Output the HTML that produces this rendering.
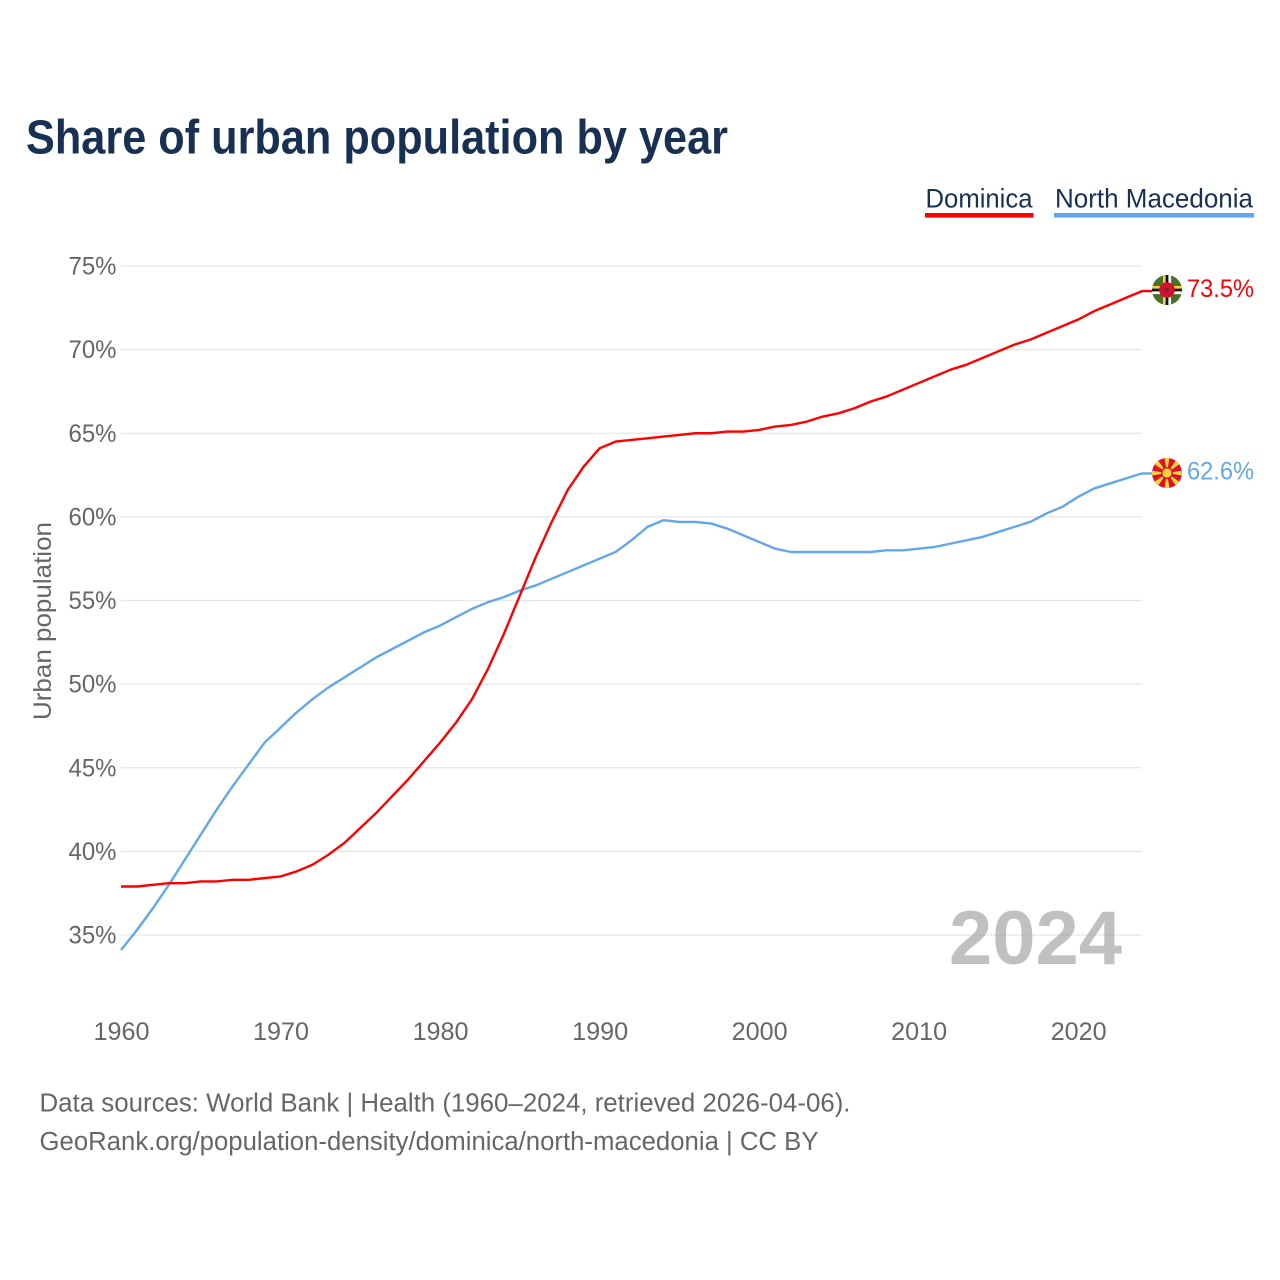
<!DOCTYPE html>
<html lang="en">
<head>
<meta charset="utf-8">
<title>Share of urban population by year</title>
<style>
html,body{margin:0;padding:0;background:#fff;}
svg{display:block;font-family:"Liberation Sans",sans-serif;}
</style>
</head>
<body>
<svg id="chart" xmlns="http://www.w3.org/2000/svg" width="1280" height="1280" viewBox="0 0 1280 1280">
  <defs>
    <clipPath id="flag-clip-a"><circle cx="0" cy="0" r="15"/></clipPath>
    <clipPath id="flag-clip-b"><circle cx="0" cy="0" r="15"/></clipPath>
  </defs>
  <rect x="0" y="0" width="1280" height="1280" fill="#ffffff"/>
  <text x="26" y="153.5" font-size="48" font-weight="700" fill="#183153" textLength="702" lengthAdjust="spacingAndGlyphs">Share of urban population by year</text>

  <g>
    <g>
      <text x="925.5" y="207.5" font-size="26.5" fill="#183153" textLength="107" lengthAdjust="spacingAndGlyphs">Dominica</text>
      <rect x="925" y="213" width="108.5" height="4.6" fill="#ff0000"/>
    </g>
    <g>
      <text x="1055" y="207.5" font-size="26.5" fill="#183153" textLength="198" lengthAdjust="spacingAndGlyphs">North Macedonia</text>
      <rect x="1054" y="213" width="200" height="4.6" fill="#62a7ec"/>
    </g>
  </g>

  <g id="grid"></g>
  <g id="y-ticks"></g>
  <g id="x-ticks"></g>
  <text transform="translate(51,720) rotate(-90)" font-size="25" fill="#666666" textLength="198" lengthAdjust="spacingAndGlyphs">Urban population</text>

  <text x="949" y="964" font-size="76" font-weight="700" fill="#9a9a9a" fill-opacity="0.62" textLength="173" lengthAdjust="spacingAndGlyphs">2024</text>

  <g id="series"></g>

  <g id="flag-dominica" transform="translate(1167,290)">
    <g clip-path="url(#flag-clip-a)">
      <rect x="-15" y="-15" width="30" height="30" fill="#4d6f2b"/>
      <rect x="-4" y="-15" width="2.7" height="30" fill="#f6d33c"/>
      <rect x="-1.3" y="-15" width="2.7" height="30" fill="#111111"/>
      <rect x="1.4" y="-15" width="2.7" height="30" fill="#ffffff"/>
      <rect x="-15" y="-4" width="30" height="2.7" fill="#f6d33c"/>
      <rect x="-15" y="-1.3" width="30" height="2.7" fill="#111111"/>
      <rect x="-15" y="1.4" width="30" height="2.7" fill="#ffffff"/>
      <circle cx="0" cy="0" r="7.8" fill="#d3102f"/>
      <circle cx="0" cy="0" r="2" fill="#5b3a1d"/>
    </g>
  </g>
  <g id="flag-macedonia" transform="translate(1167,473)">
    <g clip-path="url(#flag-clip-b)">
      <rect x="-15" y="-15" width="30" height="30" fill="#d8132a"/>
      <g fill="#f9d23c">
        <polygon points="-2.6,-16 2.6,-16 0,0"/>
        <polygon points="-2.6,-16 2.6,-16 0,0" transform="rotate(90)"/>
        <polygon points="-2.6,-16 2.6,-16 0,0" transform="rotate(180)"/>
        <polygon points="-2.6,-16 2.6,-16 0,0" transform="rotate(270)"/>
        <polygon points="-3.2,-19 3.2,-19 0,0" transform="rotate(45)"/>
        <polygon points="-3.2,-19 3.2,-19 0,0" transform="rotate(135)"/>
        <polygon points="-3.2,-19 3.2,-19 0,0" transform="rotate(225)"/>
        <polygon points="-3.2,-19 3.2,-19 0,0" transform="rotate(315)"/>
      </g>
      <circle cx="0" cy="0" r="6" fill="#d8132a"/>
      <circle cx="0" cy="0" r="4.6" fill="#f9d23c"/>
    </g>
  </g>

  <text x="39.5" y="1111.5" font-size="25.5" fill="#666666" textLength="811" lengthAdjust="spacingAndGlyphs">Data sources: World Bank | Health (1960–2024, retrieved 2026-04-06).</text>
  <text x="39.5" y="1150" font-size="25.5" fill="#666666" textLength="779" lengthAdjust="spacingAndGlyphs">GeoRank.org/population-density/dominica/north-macedonia | CC BY</text>

  <script>
    var years = [1960,1961,1962,1963,1964,1965,1966,1967,1968,1969,1970,1971,1972,1973,1974,1975,1976,1977,1978,1979,1980,1981,1982,1983,1984,1985,1986,1987,1988,1989,1990,1991,1992,1993,1994,1995,1996,1997,1998,1999,2000,2001,2002,2003,2004,2005,2006,2007,2008,2009,2010,2011,2012,2013,2014,2015,2016,2017,2018,2019,2020,2021,2022,2023,2024];
    var dominica = [37.9,37.9,38.0,38.1,38.1,38.2,38.2,38.3,38.3,38.4,38.5,38.8,39.2,39.8,40.5,41.4,42.3,43.3,44.3,45.4,46.5,47.7,49.1,50.9,53.0,55.3,57.6,59.7,61.6,63.0,64.1,64.5,64.6,64.7,64.8,64.9,65.0,65.0,65.1,65.1,65.2,65.4,65.5,65.7,66.0,66.2,66.5,66.9,67.2,67.6,68.0,68.4,68.8,69.1,69.5,69.9,70.3,70.6,71.0,71.4,71.8,72.3,72.7,73.1,73.5];
    var northMacedonia = [34.1,35.3,36.6,38.0,39.5,41.0,42.5,43.9,45.2,46.5,47.4,48.3,49.1,49.8,50.4,51.0,51.6,52.1,52.6,53.1,53.5,54.0,54.5,54.9,55.2,55.6,55.9,56.3,56.7,57.1,57.5,57.9,58.6,59.4,59.8,59.7,59.7,59.6,59.3,58.9,58.5,58.1,57.9,57.9,57.9,57.9,57.9,57.9,58.0,58.0,58.1,58.2,58.4,58.6,58.8,59.1,59.4,59.7,60.2,60.6,61.2,61.7,62.0,62.3,62.6];
    var yTicks = [35,40,45,50,55,60,65,70,75];
    var xTicks = [1960,1970,1980,1990,2000,2010,2020];

    var SVG_NS = 'http://www.w3.org/2000/svg';
    function xScale(year) { return 121 + (year - 1960) * (1142 - 121) / (2024 - 1960); }
    function yScale(value) { return 935 - (value - 35) * (935 - 266) / (75 - 35); }
    function make(tag, parent) {
      var el = document.createElementNS(SVG_NS, tag);
      parent.appendChild(el);
      return el;
    }

    var grid = document.getElementById('grid');
    var yGroup = document.getElementById('y-ticks');
    yTicks.forEach(function (t) {
      var line = make('line', grid);
      
      
      line.setAttribute('x1', 121);
      line.setAttribute('x2', 1142);
      line.setAttribute('y1', yScale(t));
      line.setAttribute('y2', yScale(t));
      line.setAttribute('stroke', '#e6e6e6');
      line.setAttribute('stroke-width', '1.2');
      var label = make('text', yGroup);
      
      
      label.setAttribute('x', 116.5);
      label.setAttribute('y', yScale(t) + 8.6);
      label.setAttribute('text-anchor', 'end');
      label.setAttribute('font-size', '25');
      label.setAttribute('fill', '#666666');
      label.setAttribute('textLength', '48');
      label.setAttribute('lengthAdjust', 'spacingAndGlyphs');
      label.textContent = t + '%';
    });

    var xGroup = document.getElementById('x-ticks');
    xTicks.forEach(function (t) {
      var label = make('text', xGroup);
      
      
      label.setAttribute('x', xScale(t) + 0.5);
      label.setAttribute('y', 1040);
      label.setAttribute('text-anchor', 'middle');
      label.setAttribute('font-size', '25');
      label.setAttribute('fill', '#666666');
      label.setAttribute('textLength', '56');
      label.setAttribute('lengthAdjust', 'spacingAndGlyphs');
      label.textContent = t;
    });

    var seriesGroup = document.getElementById('series');
    function drawSeries(values, color, lineName, labelName) {
      var pts = values.map(function (v, i) { return xScale(years[i]).toFixed(2) + ',' + yScale(v).toFixed(2); });
      var last = values[values.length - 1];
      pts.push('1155,' + yScale(last).toFixed(2));
      var line = make('polyline', seriesGroup);
      
      
      line.setAttribute('points', pts.join(' '));
      line.setAttribute('fill', 'none');
      line.setAttribute('stroke', color);
      line.setAttribute('stroke-width', '2.4');
      line.setAttribute('stroke-linejoin', 'round');
      var label = make('text', seriesGroup);
      
      
      label.setAttribute('x', 1187);
      label.setAttribute('y', yScale(last) + 6);
      label.setAttribute('font-size', '25');
      label.setAttribute('fill', color);
      label.setAttribute('textLength', '67');
      label.setAttribute('lengthAdjust', 'spacingAndGlyphs');
      label.textContent = last.toFixed(1) + '%';
    }
    drawSeries(northMacedonia, '#62a7ec', 'line-north-macedonia', 'value-label-north-macedonia');
    drawSeries(dominica, '#ff0000', 'line-dominica', 'value-label-dominica');
  </script>
</svg>
</body>
</html>
